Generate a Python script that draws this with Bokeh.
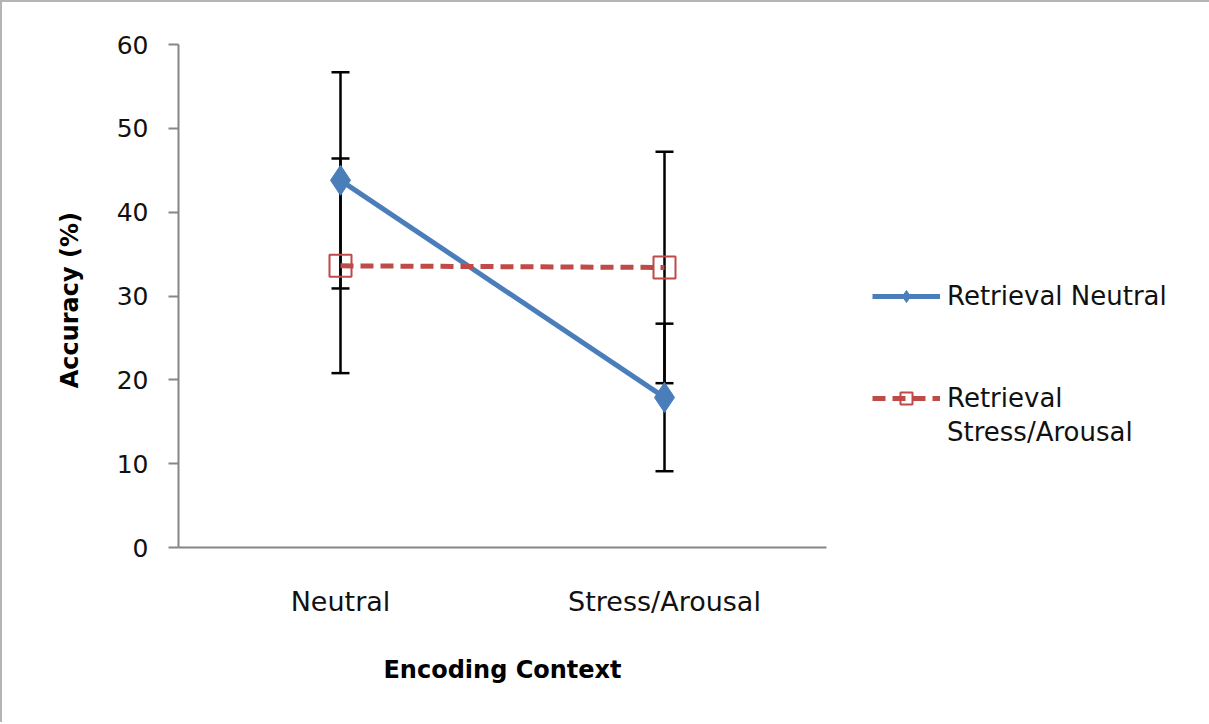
from bokeh.plotting import figure
from bokeh.models import ColumnDataSource, Whisker, TeeHead, Legend, LegendItem, Range1d, FixedTicker
from bokeh.embed import file_html
from bokeh.resources import INLINE

# ---- data ----
categories = ["Neutral", "Stress/Arousal"]
series_names = ["Retrieval Neutral", "Retrieval Stress/Arousal"]
neutral_mean = [43.8, 17.9]
neutral_err = [12.9, 8.8]
stress_mean = [33.6, 33.4]
stress_err = [12.8, 13.8]
y_ticks = [0, 10, 20, 30, 40, 50, 60]

BLUE = "#4a7ebb"
RED = "#be4b48"
AXIS = "#868686"
FONT = "DejaVu Sans"

p = figure(x_range=categories, y_range=Range1d(0, 60),
           frame_width=648, frame_height=503, output_backend="svg", toolbar_location=None,
           min_border_left=178, min_border_right=51, min_border_top=44, min_border_bottom=175)
p.styles = {"box-shadow": "inset 2px 2px 0 #b4b4b4, inset -2px 0 0 #b4b4b4"}
p.border_fill_color = None
p.background_fill_color = None
p.outline_line_color = None
p.grid.visible = False

src_n = ColumnDataSource(dict(x=categories, y=neutral_mean,
                              lo=[m - e for m, e in zip(neutral_mean, neutral_err)],
                              hi=[m + e for m, e in zip(neutral_mean, neutral_err)]))
src_s = ColumnDataSource(dict(x=categories, y=stress_mean,
                              lo=[m - e for m, e in zip(stress_mean, stress_err)],
                              hi=[m + e for m, e in zip(stress_mean, stress_err)]))

for src in (src_n, src_s):
    w = Whisker(source=src, base="x", lower="lo", upper="hi",
                line_color="black", line_width=2.5,
                upper_head=TeeHead(size=18, line_color="black", line_width=2.5),
                lower_head=TeeHead(size=18, line_color="black", line_width=2.5))
    p.add_layout(w)

ln = p.line("x", "y", source=src_n, line_color=BLUE, line_width=5)
mn = p.scatter("x", "y", source=src_n, marker="diamond", size=30, fill_color=BLUE, line_color=BLUE)
ls = p.line("x", "y", source=src_s, line_color=RED, line_width=5, line_dash="13 7")
ms = p.scatter("x", "y", source=src_s, marker="square", size=22, fill_color="white",
               fill_alpha=0.0, line_color=RED, line_width=2)

# invisible renderer used for spacer / continuation rows of the legend
blank = p.line(x=[], y=[], line_alpha=0)

name2_first, name2_second = series_names[1].split(" ", 1)
legend = Legend(items=[LegendItem(label=series_names[0], renderers=[ln, mn]),
                       LegendItem(label=" ", renderers=[blank]),
                       LegendItem(label=" ", renderers=[blank]),
                       LegendItem(label=name2_first, renderers=[ls, ms]),
                       LegendItem(label=name2_second, renderers=[blank])],
                location=(46, 100), glyph_width=68, glyph_height=30,
                label_standoff=7, spacing=4, padding=0, margin=0,
                border_line_color=None, background_fill_color=None,
                label_text_font=FONT, label_text_font_size="26px",
                label_text_color="#111111")
p.add_layout(legend, "right")

# axes
p.yaxis.ticker = FixedTicker(ticks=y_ticks)
for ax in (p.xaxis[0], p.yaxis[0]):
    ax.axis_line_color = AXIS
    ax.axis_line_width = 2
    ax.major_tick_line_color = AXIS
    ax.major_tick_line_width = 2
    ax.minor_tick_line_color = None
    ax.major_label_text_font = FONT
    ax.major_label_text_color = "#111111"
    ax.axis_label_text_font = FONT
    ax.axis_label_text_font_style = "bold"
    ax.axis_label_text_font_size = "24px"
    ax.axis_label_text_color = "#000000"

p.yaxis.major_tick_in = 0
p.yaxis.major_tick_out = 10
p.yaxis.major_label_text_font_size = "25px"
p.yaxis.major_label_standoff = 20
p.yaxis.axis_label = "Accuracy  (%)"
p.yaxis.axis_label_standoff = 30

p.xaxis.major_tick_line_color = None
p.xaxis.major_tick_out = 0
p.xaxis.major_tick_in = 0
p.xaxis.major_label_text_font_size = "27px"
p.xaxis.major_label_standoff = 38
p.xaxis.axis_label = "Encoding Context"
p.xaxis.axis_label_standoff = 36

open("out.html", "w").write(file_html(p, INLINE))
